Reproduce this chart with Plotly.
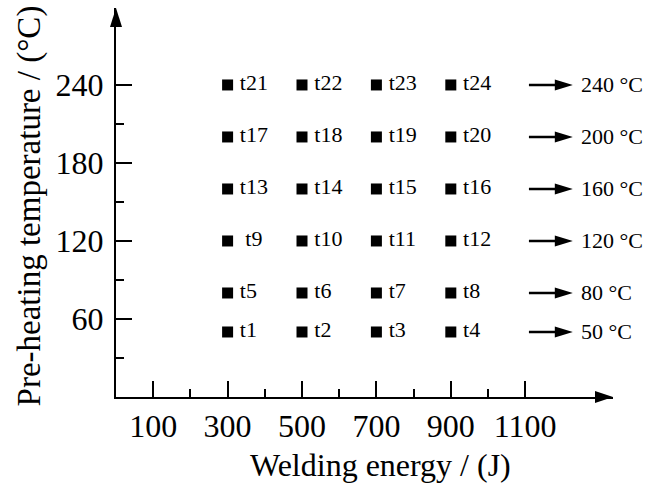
import plotly.graph_objects as go

# Test matrix: welding energy (J) x pre-heating temperature (°C)
energies = [300, 500, 700, 900]
temperatures = [50, 80, 120, 160, 200, 240]
sample_labels = [
    ["t1", "t2", "t3", "t4"],
    ["t5", "t6", "t7", "t8"],
    [" t9", "t10", "t11", "t12"],
    ["t13", "t14", "t15", "t16"],
    ["t17", "t18", "t19", "t20"],
    ["t21", "t22", "t23", "t24"],
]

x_tick_vals = [100, 300, 500, 700, 900, 1100]
x_minor_vals = [200, 400, 600, 800, 1000]
y_tick_vals = [60, 120, 180, 240]
y_minor_vals = [30, 90, 150, 210]

X_RANGE = [0, 1336]
Y_RANGE = [0, 299.2]

FONT = "Liberation Serif, Times New Roman, serif"
BLACK = "#000000"

# row arrows and their temperature captions (x in axis units)
ARROW_START = energies[-1] + 210
ARROW_END = energies[-1] + 328
CAPTION_X = energies[-1] + 345

xs, ys, texts = [], [], []
for temp, row in zip(temperatures, sample_labels):
    for e, lab in zip(energies, row):
        xs.append(e)
        ys.append(temp)
        texts.append("\u2009" + lab)

fig = go.Figure()
fig.add_trace(go.Scatter(
    x=xs, y=ys, text=texts,
    mode="markers+text",
    marker=dict(symbol="square", size=11, color=BLACK),
    textposition="middle right",
    textfont=dict(family=FONT, size=22, color=BLACK),
    cliponaxis=False,
    hoverinfo="skip",
    showlegend=False,
))

shapes = []
annotations = []
for temp in temperatures:
    shapes.append(dict(
        type="line", xref="x", yref="y",
        x0=ARROW_START, x1=ARROW_END - 20, y0=temp, y1=temp,
        line=dict(color=BLACK, width=2.5),
    ))
    shapes.append(dict(
        type="path", xref="x", yref="y",
        xsizemode="pixel", xanchor=ARROW_END,
        ysizemode="pixel", yanchor=temp,
        path="M-18,-5.5 L0,0 L-18,5.5 Z",
        fillcolor=BLACK, line=dict(width=0),
    ))
    annotations.append(dict(
        x=CAPTION_X, y=temp, xref="x", yref="y",
        text=f"{temp} °C", showarrow=False,
        xanchor="left", yanchor="middle",
        font=dict(family=FONT, size=22, color=BLACK),
    ))

# arrowheads at the ends of both axes
shapes.append(dict(
    type="path", xref="paper", yref="paper",
    xsizemode="pixel", xanchor=1, ysizemode="pixel", yanchor=0,
    path="M-18,-6 L0,0 L-18,6 Z",
    fillcolor=BLACK, line=dict(width=0),
))
shapes.append(dict(
    type="path", xref="paper", yref="paper",
    xsizemode="pixel", xanchor=0, ysizemode="pixel", yanchor=1,
    path="M-6,-19 L0,0 L6,-19 Z",
    fillcolor=BLACK, line=dict(width=0),
))

# axis titles
annotations.append(dict(
    x=0.533, y=-0.175, xref="paper", yref="paper",
    text="Welding energy / (J)", showarrow=False,
    xanchor="center", yanchor="middle",
    font=dict(family=FONT, size=32, color=BLACK),
))
annotations.append(dict(
    x=-0.175, y=0.49, xref="paper", yref="paper",
    text="Pre-heating temperature / (°C)", showarrow=False,
    textangle=-90, xanchor="center", yanchor="middle",
    font=dict(family=FONT, size=33, color=BLACK),
))

axis_common = dict(
    showline=True, linecolor=BLACK, linewidth=2,
    ticks="inside", tickwidth=2, tickcolor=BLACK, ticklen=16,
    showgrid=False, zeroline=False,
    tickfont=dict(family=FONT, size=32, color=BLACK),
    tickmode="array",
)

fig.update_layout(
    width=649, height=485,
    margin=dict(l=116, r=36, t=8, b=88),
    paper_bgcolor="white", plot_bgcolor="white",
    xaxis=dict(
        range=X_RANGE, tickvals=x_tick_vals,
        minor=dict(tickmode="array", tickvals=x_minor_vals, ticks="inside",
                   ticklen=8, tickwidth=2, tickcolor=BLACK),
        ticklabelstandoff=0,
        **axis_common,
    ),
    yaxis=dict(
        range=Y_RANGE, tickvals=y_tick_vals,
        minor=dict(tickmode="array", tickvals=y_minor_vals, ticks="inside",
                   ticklen=8, tickwidth=2, tickcolor=BLACK),
        ticklabelstandoff=4,
        **axis_common,
    ),
    shapes=shapes,
    annotations=annotations,
    hovermode=False,
)

fig.write_html("out.html")
